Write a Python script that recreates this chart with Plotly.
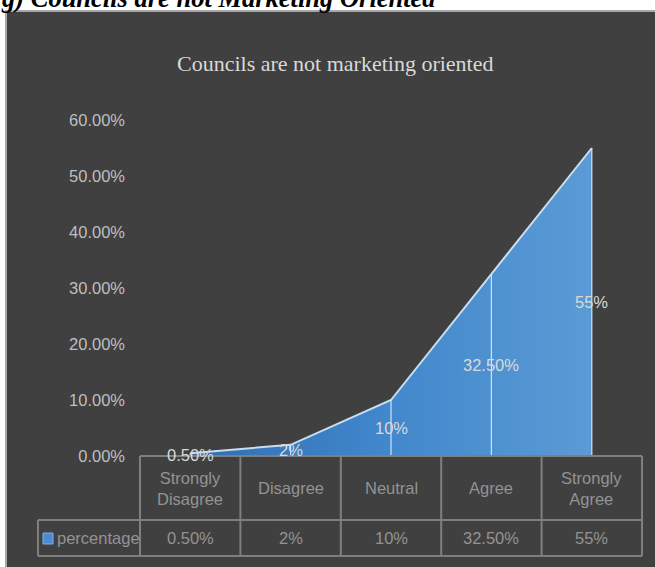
import plotly.graph_objects as go

# Survey responses: "Councils are not marketing oriented"
categories = ["Strongly Disagree", "Disagree", "Neutral", "Agree", "Strongly Agree"]
header_labels = ["Strongly<br>Disagree", "Disagree", "Neutral", "Agree", "Strongly<br>Agree"]
percentages = [0.005, 0.02, 0.10, 0.325, 0.55]
value_labels = ["0.50%", "2%", "10%", "32.50%", "55%"]
series_name = "percentage"
y_ticks = [0.0, 0.1, 0.2, 0.3, 0.4, 0.5, 0.6]

W, H = 655, 567
L, R, T, B = 140, 13, 120, 111
PW, PH = W - L - R, H - T - B

SANS = "Liberation Sans, Arial, sans-serif"
SERIF = "Liberation Serif, Times New Roman, serif"
FS = 16.5


def px_x(p):
    return (p - L) / PW


def px_y(p):
    return (H - B - p) / PH


xs = list(range(len(categories)))
n = len(categories)

fig = go.Figure()

# Area with horizontal blue gradient
fig.add_trace(go.Scatter(
    x=xs, y=percentages, mode="lines", name=series_name,
    fill="tozeroy",
    fillgradient=dict(type="horizontal",
                      colorscale=[[0, "#2f6fb2"], [0.5, "#4288cc"], [1, "#5b9bd5"]]),
    line=dict(color="#c9ddf0", width=2),
    hoverinfo="skip", showlegend=False,
))

# Drop lines from each point down to the axis
dx, dy = [], []
for x, v in zip(xs, percentages):
    dx += [x, x, None]
    dy += [0, v, None]
fig.add_trace(go.Scatter(x=dx, y=dy, mode="lines",
                         line=dict(color="#d3e2f2", width=1.2),
                         hoverinfo="skip", showlegend=False))

shapes = []
# Dark chart panel
shapes.append(dict(type="rect", xref="paper", yref="paper",
                   x0=px_x(6), x1=px_x(662), y0=px_y(575), y1=px_y(11),
                   fillcolor="#404040", line=dict(color="#a8a8a8", width=2),
                   layer="below"))

# Data table grid
grid = dict(color="#7f7f7f", width=2)
row1 = px_y(H - B + 64)
row2 = px_y(H - B + 100)
legend_left = px_x(38)
shapes.append(dict(type="line", xref="paper", yref="paper", x0=0, x1=1, y0=0, y1=0, line=grid))
for yy in (row1, row2):
    shapes.append(dict(type="line", xref="paper", yref="paper",
                       x0=legend_left, x1=1, y0=yy, y1=yy, line=grid))
for k in range(n + 1):
    xk = k / n
    shapes.append(dict(type="line", xref="paper", yref="paper",
                       x0=xk, x1=xk, y0=row2, y1=0, line=grid))
shapes.append(dict(type="line", xref="paper", yref="paper",
                   x0=legend_left, x1=legend_left, y0=row2, y1=row1, line=grid))
# Legend key inside the table
shapes.append(dict(type="rect", xref="paper", yref="paper",
                   x0=px_x(43), x1=px_x(53), y0=px_y(544), y1=px_y(533),
                   fillcolor="#4a8ad0", line=dict(color="#7fb0e4", width=1)))

annotations = []
# Page heading above the panel
annotations.append(dict(text="<b><i>g) Councils are not Marketing Oriented</i></b>",
                        xref="paper", yref="paper", x=px_x(-1), y=px_y(-2),
                        xanchor="left", yanchor="middle", showarrow=False,
                        font=dict(family=SERIF, size=26.5, color="#000000")))
# Chart title
annotations.append(dict(text="Councils are not marketing oriented",
                        xref="paper", yref="paper", x=px_x(335), y=px_y(64),
                        xanchor="center", yanchor="middle", showarrow=False,
                        font=dict(family=SERIF, size=22, color="#d9d9d9")))
# Data labels placed at mid-height of the area
for x, v, lab in zip(xs, percentages, value_labels):
    annotations.append(dict(text=lab, x=x, y=v / 2, xref="x", yref="y",
                            showarrow=False, xanchor="center", yanchor="middle",
                            font=dict(family=SANS, size=FS, color="#d9d9d9")))
# Table text
tcol = "#939393"
for i, (hl, vl) in enumerate(zip(header_labels, value_labels)):
    cx = (i + 0.5) / n
    annotations.append(dict(text=hl, xref="paper", yref="paper", x=cx, y=row1 / 2,
                            showarrow=False, xanchor="center", yanchor="middle",
                            font=dict(family=SANS, size=FS, color=tcol)))
    annotations.append(dict(text=vl, xref="paper", yref="paper", x=cx, y=(row1 + row2) / 2,
                            showarrow=False, xanchor="center", yanchor="middle",
                            font=dict(family=SANS, size=FS, color=tcol)))
annotations.append(dict(text=series_name, xref="paper", yref="paper", x=px_x(55),
                        y=(row1 + row2) / 2, showarrow=False, xanchor="left",
                        yanchor="middle", font=dict(family=SANS, size=FS, color=tcol)))

fig.update_layout(
    width=W, height=H,
    margin=dict(l=L, r=R, t=T, b=B),
    paper_bgcolor="#ffffff", plot_bgcolor="rgba(0,0,0,0)",
    shapes=shapes, annotations=annotations,
    xaxis=dict(range=[-0.5, n - 0.5], showticklabels=False, showgrid=False,
               zeroline=False, showline=False, fixedrange=True),
    yaxis=dict(range=[0, 0.6], tickvals=y_ticks, tickformat=".2%",
               showgrid=False, zeroline=False, showline=False,
               ticks="", ticklabelstandoff=14,
               tickfont=dict(family=SANS, size=FS, color="#bfbfbf")),
    showlegend=False,
)

fig.write_html("out.html")
